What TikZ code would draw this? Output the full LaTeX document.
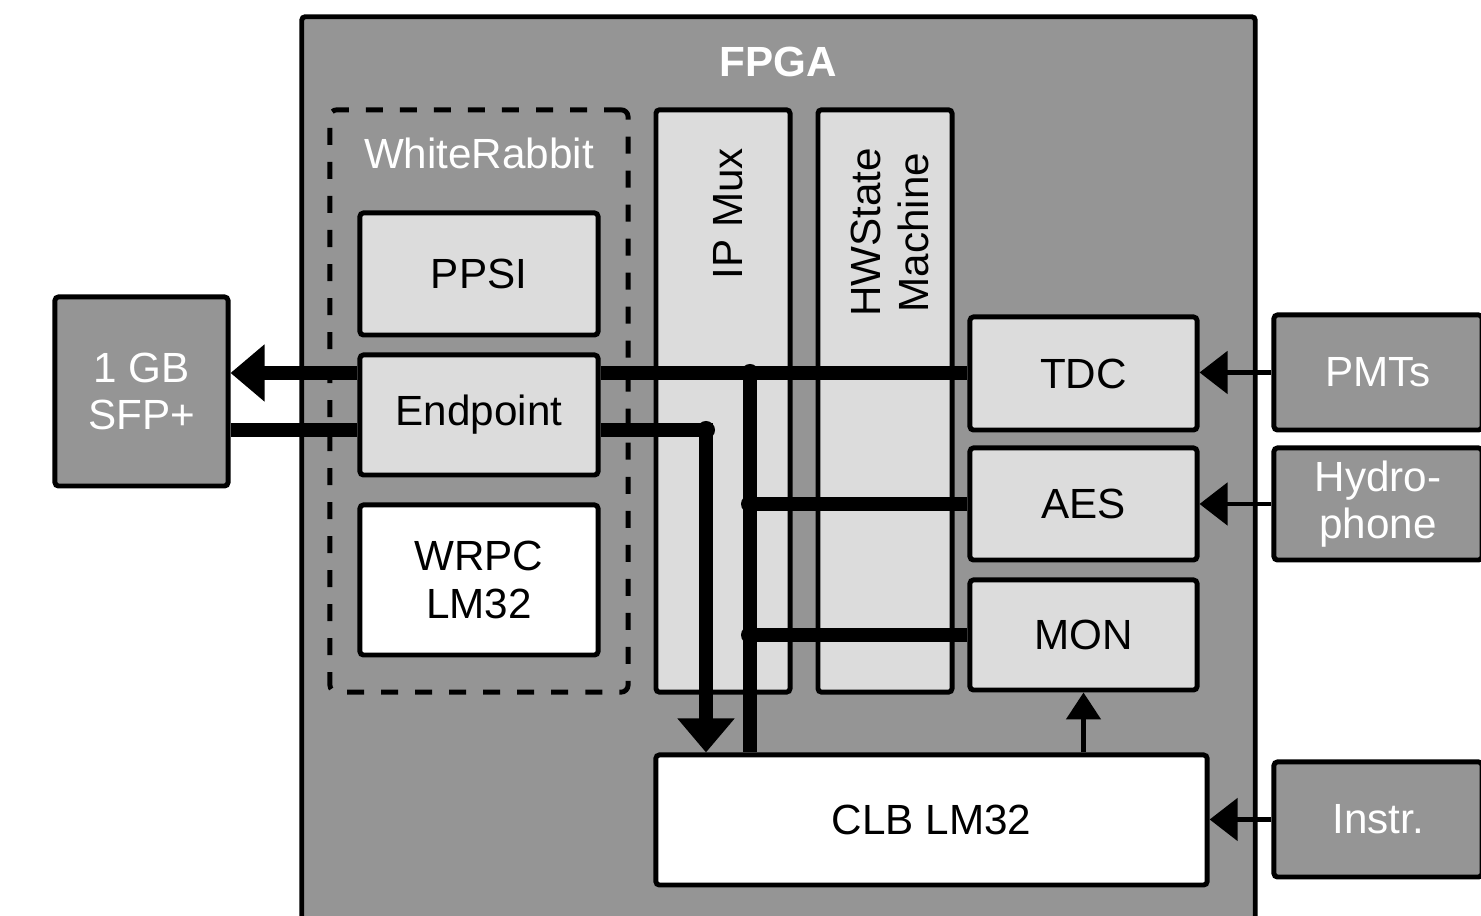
\documentclass[tikz,border=0pt]{standalone}
\usepackage{fontspec}
\setmainfont{Liberation Sans}
\usepackage{xcolor}
\usetikzlibrary{arrows.meta, positioning}

\definecolor{fpgagray}{HTML}{959595}
\definecolor{blockgray}{HTML}{DCDCDC}

\begin{document}
\begin{tikzpicture}[
    x=0.01cm, y=0.01cm,
    font=\fontsize{12}{13.5}\selectfont,
    block/.style={
        rectangle,
        draw,
        line width=1.4pt,
        rounded corners=1pt,
        fill=blockgray,
        align=center,
        inner sep=0pt
    },
    outer/.style={block, fill=fpgagray, text=white},
    plain/.style={block, fill=white},
    vlabel/.style={rotate=90, anchor=east, inner sep=0pt, align=center},
    bus/.style={line width=4pt},
    busarrow/.style={bus, -{Triangle[length=0.34cm, width=0.55cm]}},
    sigarrow/.style={line width=1.4pt, -{Triangle[length=0.28cm, width=0.42cm]}},
    monarrow/.style={line width=1.4pt, -{Triangle[length=0.27cm, width=0.34cm]}},
    tap/.style={circle, fill, inner sep=0pt, minimum size=0.18cm}
]
\useasboundingbox (0,0) rectangle (1481,916);

% FPGA
\node[outer, minimum width=9.53cm, minimum height=9.13cm] (fpga) at (778.5,442.5) {};
\node[text=white, font=\fontsize{12}{13.5}\selectfont\bfseries] (fpgatitle) at (778,854) {FPGA};

% White Rabbit core
\node[rectangle, draw, dashed, dash pattern=on 0.17cm off 0.17cm, line width=1.4pt,
      rounded corners=2pt, minimum width=2.98cm, minimum height=5.82cm] (wr) at (479,515) {};
\node[text=white] (wrtitle) at (479,763) {WhiteRabbit};
\node[block, minimum width=2.38cm, minimum height=1.22cm] (ppsi) at (479,642) {PPSI};
\node[block, minimum width=2.38cm, minimum height=1.20cm] (endpoint) at (479,501) {Endpoint};
\node[plain, minimum width=2.38cm, minimum height=1.50cm] (wrpc) at (479,336) {WRPC\\LM32};

% IP mux and state machine
\node[block, minimum width=1.34cm, minimum height=5.82cm] (ipmux) at (723,515) {};
\node[vlabel] (ipmuxlabel) at ([xshift=0.05cm, yshift=-0.4cm]ipmux.north) {IP Mux};
\node[block, minimum width=1.34cm, minimum height=5.82cm] (hwsm) at (885,515) {};
\node[vlabel] (hwsmlabel) at ([xshift=0.05cm, yshift=-0.4cm]hwsm.north) {HWState\\Machine};

% Front ends
\node[block, minimum width=2.27cm, minimum height=1.13cm] (tdc) at (1083.5,542.5) {TDC};
\node[block, minimum width=2.27cm, minimum height=1.12cm] (aes) at (1083.5,412) {AES};
\node[block, minimum width=2.27cm, minimum height=1.10cm] (mon) at (1083.5,281) {MON};
\node[plain, minimum width=5.51cm, minimum height=1.30cm] (clb) at (931.5,96) {CLB LM32};

% Outside the FPGA
\node[outer, minimum width=1.73cm, minimum height=1.89cm] (sfp) at (141.5,524.5) {1 GB\\SFP+};
\node[outer, minimum width=2.08cm, minimum height=1.15cm] (pmts) at (1378,543.5) {PMTs};
\node[outer, minimum width=2.08cm, minimum height=1.12cm] (hydro) at (1378,412) {Hydro-\\phone};
\node[outer, minimum width=2.08cm, minimum height=1.15cm] (instr) at (1378,96.5) {Instr.};

% Data buses
\coordinate (bustop) at (750,543);
\coordinate (tapdown) at (706,486);

\draw[busarrow] (endpoint.west |- bustop) -- (sfp.east |- bustop);
\draw[bus] (sfp.east |- tapdown) -- (endpoint.west |- tapdown);
\draw[bus] (endpoint.east |- bustop) -- (tdc.west |- bustop);
\draw[bus] (bustop) -- (bustop |- clb.north);
\draw[bus] (aes.west) -- (bustop |- aes.west);
\draw[bus] (mon.west) -- (bustop |- mon.west);
\draw[busarrow] (endpoint.east |- tapdown) -- (tapdown) -- (tapdown |- clb.north);

\node[tap] (j1) at (bustop) {};
\node[tap] (j2) at (bustop |- aes.west) {};
\node[tap] (j3) at (bustop |- mon.west) {};
\node[tap] (j4) at (tapdown) {};

% Signal inputs
\draw[sigarrow] (pmts.west) -- (pmts.west -| tdc.east);
\draw[sigarrow] (hydro.west) -- (hydro.west -| aes.east);
\draw[sigarrow] (instr.west) -- (instr.west -| clb.east);
\draw[monarrow] (mon.south |- clb.north) -- (mon.south);

\end{tikzpicture}
\end{document}
